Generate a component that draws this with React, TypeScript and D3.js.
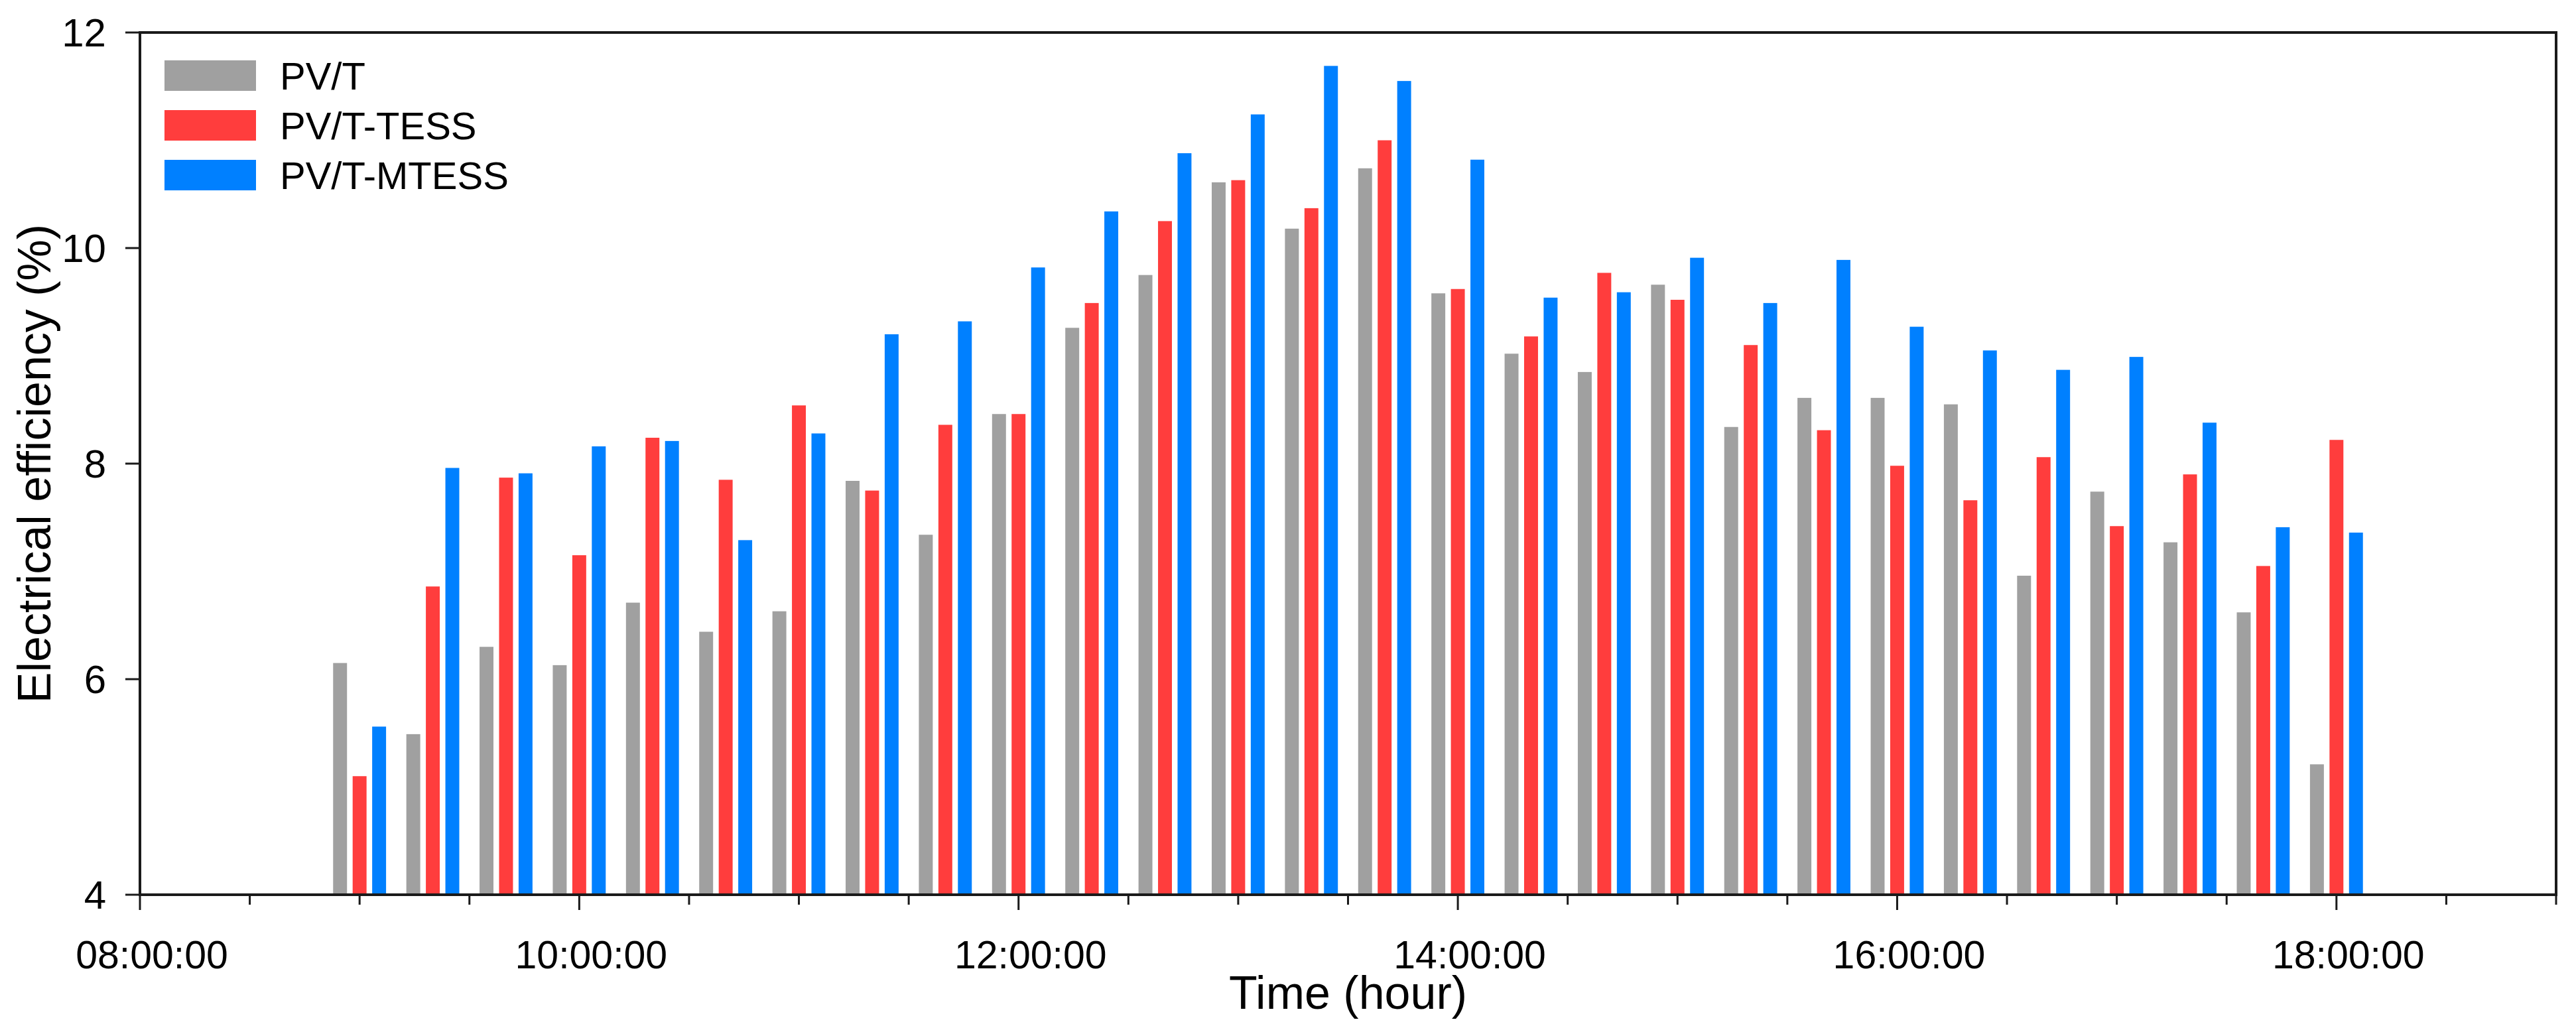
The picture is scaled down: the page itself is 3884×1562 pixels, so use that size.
import React from "react";
import * as d3 from "d3";

const times = [
  "09:00", "09:20", "09:40", "10:00", "10:20", "10:40", "11:00", "11:20", "11:40", "12:00",
  "12:20", "12:40", "13:00", "13:20", "13:40", "14:00", "14:20", "14:40", "15:00", "15:20",
  "15:40", "16:00", "16:20", "16:40", "17:00", "17:20", "17:40", "18:00",
];
const pvt = [6.15, 5.49, 6.3, 6.13, 6.71, 6.44, 6.63, 7.84, 7.34, 8.46, 9.26, 9.75, 10.61, 10.18, 10.74, 9.58, 9.02, 8.85, 9.66, 8.34, 8.61, 8.61, 8.55, 6.96, 7.74, 7.27, 6.62, 5.21];
const tess = [5.1, 6.86, 7.87, 7.15, 8.24, 7.85, 8.54, 7.75, 8.36, 8.46, 9.49, 10.25, 10.63, 10.37, 11.0, 9.62, 9.18, 9.77, 9.52, 9.1, 8.31, 7.98, 7.66, 8.06, 7.42, 7.9, 7.05, 8.22];
const mtess = [5.56, 7.96, 7.91, 8.16, 8.21, 7.29, 8.28, 9.2, 9.32, 9.82, 10.34, 10.88, 11.24, 11.69, 11.55, 10.82, 9.54, 9.59, 9.91, 9.49, 9.89, 9.27, 9.05, 8.87, 8.99, 8.38, 7.41, 7.36];
const seriesNames = ["PV/T", "PV/T-TESS", "PV/T-MTESS"];
const seriesColors = ["#A0A0A0", "#FF3D3D", "#0080FF"];
const yTicks = [4, 6, 8, 10, 12];
const xMajorLabels = ["08:00:00", "10:00:00", "12:00:00", "14:00:00", "16:00:00", "18:00:00"];
const xTitle = "Time (hour)";
const yTitle = "Electrical efficiency (%)";

const W = 3884;
const H = 1562;
const M = { left: 211, right: 30, top: 49, bottom: 213 };
const FONT = "'Liberation Sans', Arial, Helvetica, sans-serif";

const toHours = (s: string) => {
  const [h, m, sec] = s.split(":").map(Number);
  return h + (m || 0) / 60 + (sec || 0) / 3600;
};

export default function App() {
  const x = d3.scaleLinear().domain([8, 19]).range([M.left, W - M.right]);
  const y = d3.scaleLinear().domain([4, 12]).range([H - M.bottom, M.top]);
  const step = x(8 + 20 / 60) - x(8);
  const groupW = step * 0.8;
  const inner = d3
    .scaleBand<string>()
    .domain(seriesNames)
    .range([-groupW / 2, groupW / 2])
    .paddingInner(0.288)
    .paddingOuter(0.144);
  const data = [pvt, tess, mtess];
  const minorTicks = d3.range(8, 19.001, 0.5);
  const bottom = y(4);

  return (
    <svg
      width={W}
      height={H}
      style={{ position: "absolute", left: 0, top: 0, background: "#fff" }}
      fontFamily={FONT}
    >
      {/* bars */}
      {data.map((vals, si) =>
        vals.map((v, i) => {
          const cx = x(toHours(times[i]));
          const bx = cx + (inner(seriesNames[si]) as number);
          return (
            <rect
              key={`${si}-${i}`}
              x={bx}
              y={y(v)}
              width={inner.bandwidth()}
              height={bottom - y(v)}
              fill={seriesColors[si]}
            />
          );
        })
      )}

      {/* frame */}
      <rect
        x={M.left}
        y={M.top}
        width={W - M.left - M.right}
        height={H - M.top - M.bottom}
        fill="none"
        stroke="#1a1a1a"
        strokeWidth={4}
      />

      {/* x ticks */}
      {minorTicks.map((t) => {
        const major = Math.abs((t - 8) % 2) < 1e-6;
        return (
          <line
            key={t}
            x1={x(t)}
            x2={x(t)}
            y1={bottom}
            y2={bottom + (major ? 23 : 15)}
            stroke="#1a1a1a"
            strokeWidth={3}
          />
        );
      })}
      {xMajorLabels.map((lab) => (
        <text
          key={lab}
          x={x(toHours(lab)) + 18}
          y={1460}
          textAnchor="middle"
          fontSize={59}
          fill="#000"
        >
          {lab}
        </text>
      ))}

      {/* y ticks */}
      {yTicks.map((t) => (
        <g key={t}>
          <line x1={M.left - 22} x2={M.left} y1={y(t)} y2={y(t)} stroke="#1a1a1a" strokeWidth={3} />
          <text
            x={160}
            y={y(t)}
            textAnchor="end"
            dominantBaseline="central"
            fontSize={60}
            fill="#000"
          >
            {t}
          </text>
        </g>
      ))}

      {/* titles */}
      <text x={(M.left + W - M.right) / 2} y={1521} textAnchor="middle" fontSize={70} fill="#000">
        {xTitle}
      </text>
      <text
        transform={`translate(76, ${(M.top + bottom) / 2}) rotate(-90)`}
        textAnchor="middle"
        fontSize={70}
        fill="#000"
      >
        {yTitle}
      </text>

      {/* legend */}
      {seriesNames.map((name, i) => (
        <g key={name} transform={`translate(248, ${91 + i * 75})`}>
          <rect width={138} height={46} fill={seriesColors[i]} />
          <text x={174} y={23} dominantBaseline="central" fontSize={58} fill="#000">
            {name}
          </text>
        </g>
      ))}
    </svg>
  );
}
